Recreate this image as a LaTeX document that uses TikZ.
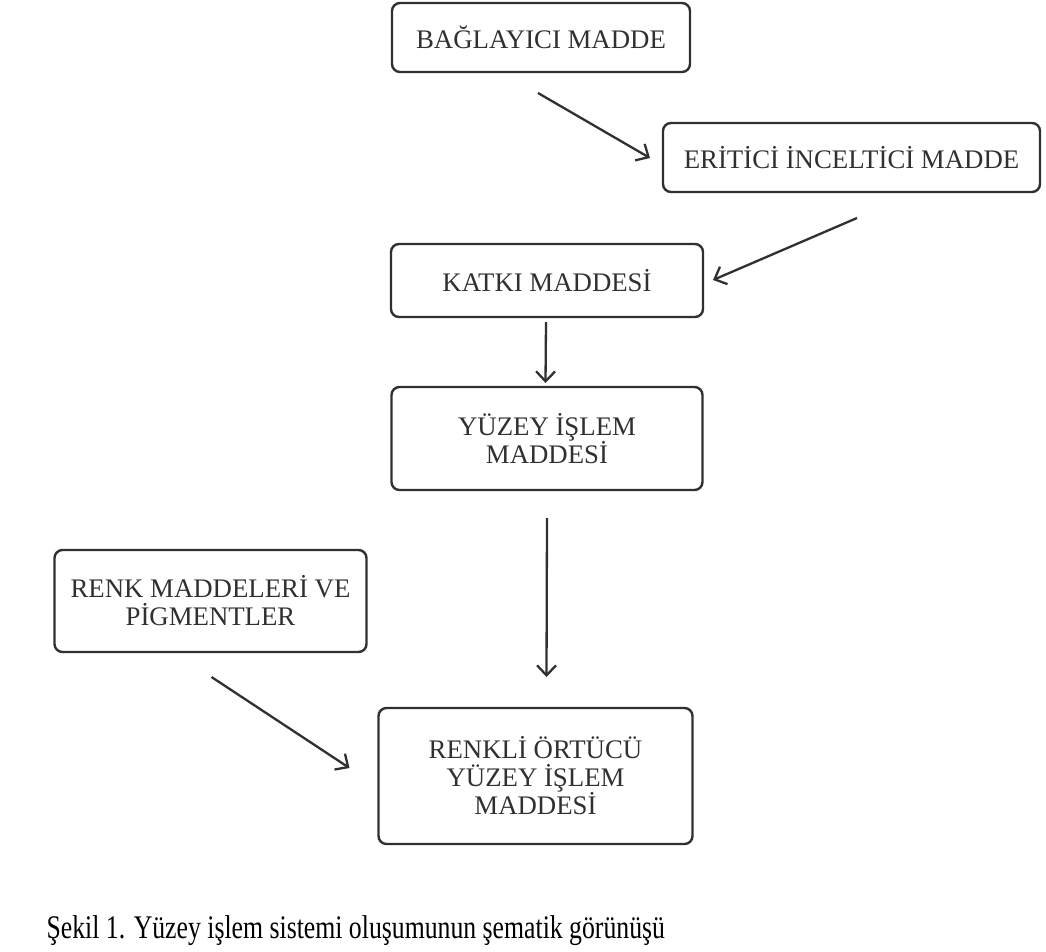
\documentclass[tikz,border=0pt]{standalone}
\usepackage{fontspec}
\setmainfont{Liberation Serif}
\usepackage{graphicx}
\usetikzlibrary{arrows.meta,positioning,calc}
\definecolor{ink}{HTML}{303030}

\begin{document}
\begin{tikzpicture}[x=1pt, y=-1pt,
  box/.style={rectangle, draw=ink, line width=2.4pt, rounded corners=8pt, align=center, inner sep=0pt, outer sep=0pt, text=ink, font=\fontsize{26.8}{28}\selectfont},
  arr/.style={-{Straight Barb[length=10pt,width=19pt]}, line width=2.3pt, color=ink}]
\useasboundingbox (0,0) rectangle (1046,951);
\node[box, minimum width=298pt, minimum height=69pt] (bag) at (541,37.5) {BAĞLAYICI MADDE};
\node[box, minimum width=377pt, minimum height=69pt, below right=51pt and -27pt of bag] (eri) {ERİTİCİ İNCELTİCİ MADDE};
\node[box, minimum width=312pt, minimum height=73pt, below left=52pt and -40pt of eri] (kat) {KATKI MADDESİ};
\node[box, minimum width=311pt, minimum height=103pt, below=70pt of kat] (yuz) {YÜZEY İŞLEM\\MADDESİ};
\node[box, minimum width=314pt, minimum height=136pt, below=218pt of yuz, xshift=-11.5pt] (ren) {RENKLİ ÖRTÜCÜ\\YÜZEY İŞLEM\\MADDESİ};
\node[box, minimum width=312pt, minimum height=102pt, above left=56pt and 12pt of ren] (pig) {RENK MADDELERİ VE\\PİGMENTLER};
% arrow ends, free of the boxes
\coordinate (s1) at ($(bag.south)+(-3,21)$);
\coordinate (e1) at ($(eri.west)+(-13,0.5)$);
\coordinate (s2) at ($(eri.south)+(5.5,26)$);
\coordinate (e2) at ($(kat.east)+(10,-0.5)$);
\coordinate (s3) at ($(kat.south)+(-1,5)$);
\coordinate (e3) at ($(yuz.north)+(-1.5,-4)$);
\coordinate (s4) at ($(yuz.south)+(0,28)$);
\coordinate (e4) at ($(ren.north)+(11,-31)$);
\coordinate (s5) at ($(pig.south)+(1,25)$);
\coordinate (e5) at ($(ren.west)+(-29,-8)$);
\draw[arr] (s1) -- (e1);
\draw[arr] (s2) -- (e2);
\draw[arr] (s3) -- (e3);
\draw[arr] (s4) -- (e4);
\draw[arr] (s5) -- (e5);
\node[anchor=base west, font=\fontsize{33}{36}\selectfont] (cap) at (43,938) {\scalebox{0.78}[1]{Şekil 1. Yüzey işlem sistemi oluşumunun şematik görünüşü}};
\end{tikzpicture}
\end{document}
